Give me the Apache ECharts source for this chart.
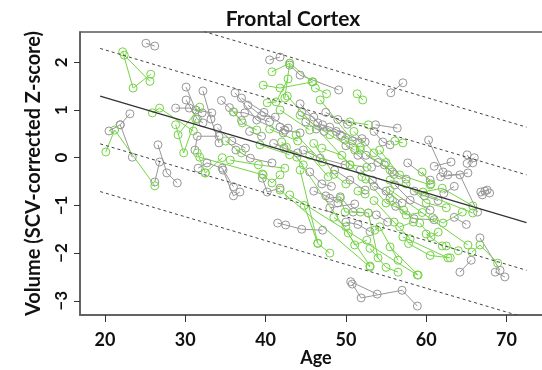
<!DOCTYPE html>
<html>
<head>
<meta charset="utf-8">
<script src="https://cdn.jsdelivr.net/npm/echarts@6/dist/echarts.min.js"></script>
<style>
  html, body { margin: 0; padding: 0; background: #fff; }
  #chart { width: 542px; height: 370px; }
</style>
</head>
<body>
<div id="chart"></div>
<script>
// Axis ticks
const xTicks = [20, 30, 40, 50, 60, 70];
const yTicks = [-3, -2, -1, 0, 1, 2];

// Group-level fit: endpoints [age, z] and the offsets of the dashed bands
const fitLine = [[19.4, 1.29], [72.5, -1.36]];
const bandOffsets = [2, 1, -1, -2];

// Individual trajectories, grey group: each is a list of [age, z-score] visits
const greyPaths = [
  [[25.1, 2.40], [26.2, 2.34]],
  [[20.5, 0.56], [21.9, 0.69], [23.1, 0.92]],
  [[21.9, 0.69], [23.4, 0.01]],
  [[26.6, 0.27], [27.7, -0.32], [29.0, -0.53]],
  [[26.2, -0.51], [26.8, -0.09]],
  [[30.1, 1.48], [31.3, 1.00], [33.3, 0.94]],
  [[32.2, 1.40], [33.2, 0.81], [34.2, 0.31]],
  [[28.8, 1.04], [30.5, 1.04], [32.1, 0.94]],
  [[30.1, 1.21], [31.5, 0.81], [32.2, 0.73]],
  [[31.2, 0.16], [31.5, 0.45], [34.2, 0.45]],
  [[40.5, 2.05], [41.8, 2.11]],
  [[43.0, 1.94], [44.3, 1.73], [49.1, 1.42]],
  [[55.6, 1.36], [57.1, 1.57]],
  [[36.2, 1.36], [38.9, 0.79], [42.2, 0.52]],
  [[36.0, 0.96], [37.4, 0.94], [40.5, 0.75]],
  [[31.6, -0.22], [32.7, -0.11], [34.6, -0.22], [36.0, -0.61]],
  [[34.7, -0.26], [36.0, -0.80], [36.8, -0.72]],
  [[39.6, -0.43], [40.2, -0.72], [41.8, -0.64]],
  [[41.5, -1.37], [42.5, -1.41], [44.5, -1.50], [47.1, -1.52]],
  [[50.8, -2.65], [51.9, -2.94], [57.0, -2.78], [58.9, -3.11]],
  [[50.6, -2.60], [53.9, -2.86]],
  [[60.3, 0.37], [62.1, -0.30]],
  [[65.1, 0.06], [65.8, -0.11]],
  [[65.1, -0.12], [66.0, 0.00]],
  [[66.8, -0.72], [67.6, -0.68], [67.9, -0.74]],
  [[67.0, -0.78], [67.3, -0.70]],
  [[62.7, -0.36], [64.2, -0.36], [66.4, -1.14]],
  [[61.8, -0.40], [65.2, -0.32]],
  [[66.7, -1.68], [69.2, -2.36]],
  [[64.2, -2.40], [65.6, -2.15]],
  [[68.6, -2.40], [69.8, -2.50]],
  [[53.7, 0.69], [56.4, 0.62]],
  [[44.3, 1.13], [46.5, 0.73], [49.3, 0.48]],
  [[41.8, 0.64], [42.4, 0.58], [44.3, 0.52]],
  [[47.1, 0.69], [48.0, 0.64], [52.4, 0.33]],
  [[53.5, 0.55], [54.6, 0.33], [55.5, 0.27]],
  [[48.0, -0.85], [49.3, -0.82], [50.9, -1.14], [52.8, -1.16]],
  [[48.0, -1.05], [51.1, -0.97]],
  [[48.6, -0.26], [50.5, -0.47], [52.4, -0.68]],
  [[36.3, 0.16], [38.1, -0.01], [40.8, -0.11]],
  [[57.7, -0.11], [60.5, -0.47]],
  [[61.0, -0.18], [63.1, -0.09]],
  [[44.7, 0.16], [46.8, -0.01], [49.9, -0.15]],
  [[51.8, -0.26], [53.3, -0.47], [55.5, -0.85]],
  [[56.1, -0.57], [58.0, -0.89], [60.5, -1.10]],
  [[34.0, 0.62], [35.8, 0.35], [37.5, 0.20]],
  [[37.8, 1.10], [39.5, 0.88], [41.2, 0.85]],
  [[44.5, 0.95], [46.0, 0.85], [47.3, 0.55]],
  [[50.0, 0.25], [51.5, 0.05], [53.2, -0.20]],
  [[53.5, -0.60], [55.0, -0.70], [57.0, -0.95]],
  [[45.5, -0.30], [47.0, -0.55], [48.2, -0.60]],
  [[37.0, 1.25], [39.8, 0.95], [42.8, 0.62]],
  [[56.2, -1.02], [58.5, -1.28], [61.0, -1.30]],
  [[62.2, -0.75], [63.5, -0.60]],
  [[45.0, 0.75], [46.3, 0.60], [48.8, 0.55]],
  [[47.5, 0.95], [49.0, 0.80], [50.2, 0.70]],
  [[49.5, 0.45], [50.8, 0.35], [52.0, 0.40]],
  [[52.5, 0.05], [54.0, -0.10], [55.8, -0.30]],
  [[54.8, -0.15], [56.0, -0.35], [57.5, -0.45]],
  [[46.0, -0.70], [47.5, -0.80], [49.0, -0.95]],
  [[50.0, -1.35], [51.5, -1.40], [53.0, -1.55]],
  [[53.8, -1.20], [55.2, -1.35]],
  [[58.5, -0.70], [59.8, -0.80], [61.5, -0.90]],
  [[63.5, -1.25], [65.0, -1.40]],
  [[41.0, 0.30], [42.3, 0.20], [44.0, 0.10]],
  [[38.0, 0.55], [39.5, 0.45]],
  [[34.5, 1.20], [35.5, 1.05], [37.0, 0.78]]
];

// Individual trajectories, green group
const greenPaths = [
  [[22.2, 2.22], [23.5, 1.46], [25.7, 1.75]],
  [[22.4, 2.15], [25.6, 1.60]],
  [[20.1, 0.12], [21.2, 0.58], [26.2, -0.59]],
  [[25.9, 0.94], [26.8, 1.04], [31.0, 0.56]],
  [[29.1, 0.48], [31.8, 1.06]],
  [[28.8, 0.69], [29.8, 0.10], [31.3, 0.81]],
  [[40.8, 1.80], [43.0, 1.98], [45.8, 1.59]],
  [[39.7, 1.52], [41.8, 1.46], [45.9, 1.59]],
  [[40.2, 1.15], [41.3, 1.17], [42.8, 1.65]],
  [[46.2, 1.46], [47.6, 1.34]],
  [[51.4, 1.34], [52.1, 1.21]],
  [[56.1, 0.35], [57.1, 0.31]],
  [[36.0, 0.96], [37.1, 0.73], [38.9, 0.58]],
  [[31.8, 0.01], [39.7, -0.36]],
  [[32.5, -0.32], [34.6, 0.00]],
  [[39.6, -0.34], [40.8, -0.53], [41.8, -0.36]],
  [[51.5, -0.70], [52.4, -0.76]],
  [[44.3, -0.26], [46.5, -1.79]],
  [[41.8, -0.68], [53.0, -2.29]],
  [[43.0, -0.78], [58.9, -2.46]],
  [[49.3, -0.85], [49.9, -1.14], [51.8, -1.14]],
  [[52.8, -1.16], [54.0, -2.10]],
  [[50.3, -1.58], [51.1, -1.83], [52.6, -1.73]],
  [[53.6, -1.52], [54.2, -1.45], [56.5, -2.15]],
  [[56.7, -1.45], [58.4, -1.35]],
  [[59.5, -0.30], [60.6, -0.55]],
  [[59.6, -0.72], [62.0, -0.64], [65.8, -1.01]],
  [[60.8, -1.26], [62.1, -1.37], [64.5, -1.14]],
  [[59.2, -1.37], [60.6, -1.66], [61.5, -1.56]],
  [[57.1, -1.66], [62.7, -2.10]],
  [[65.7, -1.98], [66.7, -1.83], [68.9, -2.21]],
  [[55.5, -1.87], [59.0, -2.46]],
  [[55.5, -0.47], [65.8, -1.16]],
  [[50.5, -0.15], [52.6, -0.20]],
  [[43.8, 0.48], [47.1, -0.09]],
  [[42.0, 0.33], [42.6, 0.22], [44.7, -0.15]],
  [[49.9, 0.37], [51.8, 0.22]],
  [[50.5, 0.75], [52.8, 0.69]],
  [[42.4, 1.25], [43.0, 1.98]],
  [[35.6, -0.05], [39.1, -0.15], [42.4, -0.22]],
  [[44.3, 0.89], [48.0, 0.48], [51.1, 0.16]],
  [[46.8, 1.21], [51.8, 0.16], [55.5, -0.26]],
  [[41.8, 1.00], [45.5, 0.58]],
  [[54.2, 0.16], [56.7, -0.36], [60.5, -0.57]],
  [[39.3, 0.27], [43.0, 0.06]],
  [[46.0, 0.30], [48.5, -0.35], [50.0, -0.55]],
  [[52.5, -0.45], [55.0, -0.95], [57.2, -1.10]],
  [[57.5, -0.55], [60.0, -0.95], [62.5, -1.05]],
  [[35.0, 0.35], [37.0, 0.10]],
  [[31.5, 0.10], [32.5, -0.32]],
  [[44.8, -1.00], [46.5, -1.80], [48.0, -2.00]],
  [[53.0, -1.90], [55.0, -2.30], [56.5, -2.40]],
  [[62.5, -1.85], [64.0, -1.95]],
  [[55.8, -0.90], [57.5, -1.20], [59.5, -1.15]],
  [[55.5, -0.68], [65.2, -1.83]],
  [[43.9, 0.01], [53.0, -2.27]],
  [[42.7, 1.29], [50.5, -0.15]],
  [[47.0, 0.20], [49.5, 0.05], [52.0, -0.40]],
  [[48.5, -1.25], [50.0, -1.45]],
  [[53.5, -0.90], [56.0, -1.35], [58.0, -1.70]],
  [[45.5, 0.05], [47.8, -0.40]],
  [[57.8, -1.80], [60.5, -2.05], [63.0, -2.10]],
  [[40.5, 0.60], [44.0, 0.35]],
  [[51.0, 0.55], [53.5, 0.10], [55.0, -0.10]],
  [[60.0, -1.60], [62.0, -1.85]]
];

const GREY = '#979797';
const GREEN = '#74d444';

function trajectorySeries(path, color) {
  return {
    type: 'line',
    data: path,
    symbol: 'circle',
    symbolSize: 8,
    showSymbol: true,
    itemStyle: { color: 'rgba(255,255,255,0)', borderColor: color, borderWidth: 1 },
    lineStyle: { color: color, width: 1 },
    emphasis: { disabled: true },
    silent: true,
    animation: false,
    z: 2
  };
}

function refLine(points, dashed) {
  return {
    type: 'line',
    data: points,
    symbol: 'none',
    lineStyle: dashed
      ? { color: '#444', width: 1, type: [3, 3] }
      : { color: '#333', width: 1.2 },
    silent: true,
    animation: false,
    clip: true,
    z: 3
  };
}

const series = [];
greyPaths.forEach(p => series.push(trajectorySeries(p, GREY)));
greenPaths.forEach(p => series.push(trajectorySeries(p, GREEN)));
series.push(refLine(fitLine, false));
bandOffsets.forEach(off => {
  series.push(refLine(fitLine.map(([a, z]) => [a, z + off]), true));
});

const font = 'Lato, "Open Sans", sans-serif';
const minus = v => (v < 0 ? '\u2212' + Math.abs(v) : String(v));
const boxLine = { show: true, onZero: false, lineStyle: { color: '#5a5a5a', width: 1.5 } };

const chart = echarts.init(document.getElementById('chart'), null, { renderer: 'canvas' });
chart.setOption({
  backgroundColor: '#fff',
  animation: false,
  title: {
    text: 'Frontal Cortex',
    left: 288,
    top: 4,
    textAlign: 'center',
    textStyle: { fontFamily: font, fontWeight: 'bold', fontSize: 21, color: '#111' }
  },
  grid: {
    left: 80, top: 32, right: -10, bottom: 55,
    show: true, borderColor: '#5a5a5a', borderWidth: 1.5,
    outerBoundsMode: 'none', containLabel: false
  },
  xAxis: {
    type: 'value',
    min: 16.887, max: 75.67,
    name: 'Age',
    nameLocation: 'middle',
    nameGap: 34,
    nameMoveOverlap: false,
    nameTextStyle: { fontFamily: font, fontWeight: 'bold', fontSize: 18, color: '#111' },
    axisLine: boxLine,
    splitLine: { show: false },
    axisTick: { show: true, length: 7, customValues: xTicks, lineStyle: { color: '#333', width: 1 } },
    axisLabel: { customValues: xTicks, margin: 16, fontFamily: font, fontWeight: 'bold', fontSize: 18, color: '#111' }
  },
  yAxis: {
    type: 'value',
    min: -3.298, max: 2.635,
    name: 'Volume (SCV-corrected Z-score)',
    nameLocation: 'middle',
    nameGap: 36,
    nameRotate: 90,
    nameMoveOverlap: false,
    nameTextStyle: { fontFamily: font, fontWeight: 'bold', fontSize: 20, color: '#111' },
    axisLine: boxLine,
    splitLine: { show: false },
    axisTick: { show: true, length: 6, customValues: yTicks, lineStyle: { color: '#333', width: 1 } },
    axisLabel: {
      customValues: yTicks, rotate: 90, margin: 10,
      formatter: minus,
      fontFamily: font, fontWeight: 'bold', fontSize: 17, color: '#111'
    }
  },
  series: series
});
</script>
</body>
</html>
